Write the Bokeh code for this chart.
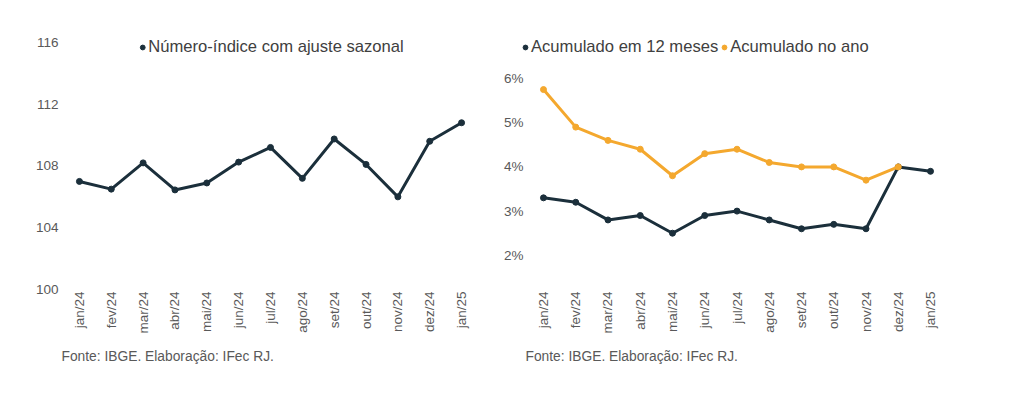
import math
from bokeh.plotting import figure
from bokeh.models import (FactorRange, Range1d, FixedTicker, Legend, LegendItem,
                          Title, PrintfTickFormatter)
from bokeh.layouts import row
from bokeh.embed import file_html
from bokeh.resources import INLINE

months = ["jan/24", "fev/24", "mar/24", "abr/24", "mai/24", "jun/24", "jul/24",
          "ago/24", "set/24", "out/24", "nov/24", "dez/24", "jan/25"]
indice = [107.0, 106.5, 108.2, 106.45, 106.9, 108.25, 109.2, 107.2, 109.75,
          108.1, 106.0, 109.6, 110.8]
acum12 = [3.3, 3.2, 2.8, 2.9, 2.5, 2.9, 3.0, 2.8, 2.6, 2.7, 2.6, 4.0, 3.9]
acum_ano = [5.75, 4.9, 4.6, 4.4, 3.8, 4.3, 4.4, 4.1, 4.0, 4.0, 3.7, 4.0]
left_ticks = [100, 104, 108, 112, 116]
right_ticks = [2, 3, 4, 5, 6]
footer = "Fonte: IBGE. Elaboração: IFec RJ."
legend_left = "Número-índice com ajuste sazonal"
legend_r1 = "Acumulado em 12 meses"
legend_r2 = "Acumulado no ano"

NAVY = "#1b2f3b"
ORANGE = "#f4a82e"
GRAY = "#595959"
LEGTXT = "#404040"
FONT = "Liberation Sans"


def style(p, ticks, foot_offset):
    p.outline_line_color = None
    p.background_fill_color = "white"
    p.border_fill_color = "white"
    p.xgrid.visible = False
    p.ygrid.visible = False
    for ax in (p.xaxis[0], p.yaxis[0]):
        ax.axis_line_color = None
        ax.major_tick_line_color = None
        ax.minor_tick_line_color = None
        ax.major_tick_out = 0
        ax.major_tick_in = 0
        ax.major_label_text_font = FONT
        ax.major_label_text_font_size = "13.5px"
        ax.major_label_text_color = GRAY
    p.xaxis[0].major_label_orientation = math.pi / 2
    p.xaxis[0].major_label_standoff = 2
    p.yaxis[0].ticker = FixedTicker(ticks=ticks)
    p.add_layout(Title(text=footer, align="left", text_font=FONT,
                       text_font_size="13.8px", text_color=GRAY,
                       text_font_style="normal", standoff=20,
                       offset=foot_offset), "below")


def legend(items, **kw):
    return Legend(items=items, orientation="horizontal",
                  border_line_color=None, background_fill_alpha=0,
                  label_text_font=FONT, label_text_font_size="16.6px",
                  label_text_color=LEGTXT, glyph_width=12, label_standoff=0,
                  padding=0, spacing=0, **kw)


# Left chart
p1 = figure(width=490, height=387, x_range=FactorRange(factors=months),
            y_range=Range1d(100, 116 + 12 / 15.5), output_backend="svg",
            toolbar_location=None, min_border_left=63, min_border_right=13,
            min_border_top=30, min_border_bottom=97)
style(p1, left_ticks, -2)
p1.yaxis[0].major_label_standoff = 5
p1.line(months, indice, line_color=NAVY, line_width=3)
s1 = p1.scatter(months, indice, size=6, color=NAVY)
p1.add_layout(legend([LegendItem(label=legend_left, renderers=[s1])],
                     location="top_center", margin=7), "center")

# Right chart
ppu = 44.2
p2 = figure(width=526, height=387,
            x_range=FactorRange(factors=months, range_padding=0.306,
                                range_padding_units="absolute"),
            y_range=Range1d(6 - (289 - 78) / ppu, 6 + (78 - 30) / ppu),
            output_backend="svg", toolbar_location=None,
            min_border_left=27, min_border_right=60,
            min_border_top=30, min_border_bottom=98)
style(p2, right_ticks, 8)
p2.yaxis[0].major_label_standoff = -6
p2.yaxis[0].formatter = PrintfTickFormatter(format="%d%%")
p2.line(months, acum12, line_color=NAVY, line_width=3)
s2 = p2.scatter(months, acum12, size=6, color=NAVY)
p2.line(months[:len(acum_ano)], acum_ano, line_color=ORANGE, line_width=3)
s3 = p2.scatter(months[:len(acum_ano)], acum_ano, size=6, color=ORANGE)
p2.add_layout(legend([LegendItem(label=legend_r1, renderers=[s2]),
                      LegendItem(label=legend_r2, renderers=[s3])],
                     location=(2, 232), margin=0), "center")

layout = row(p1, p2)
open("out.html", "w").write(file_html(layout, INLINE))
